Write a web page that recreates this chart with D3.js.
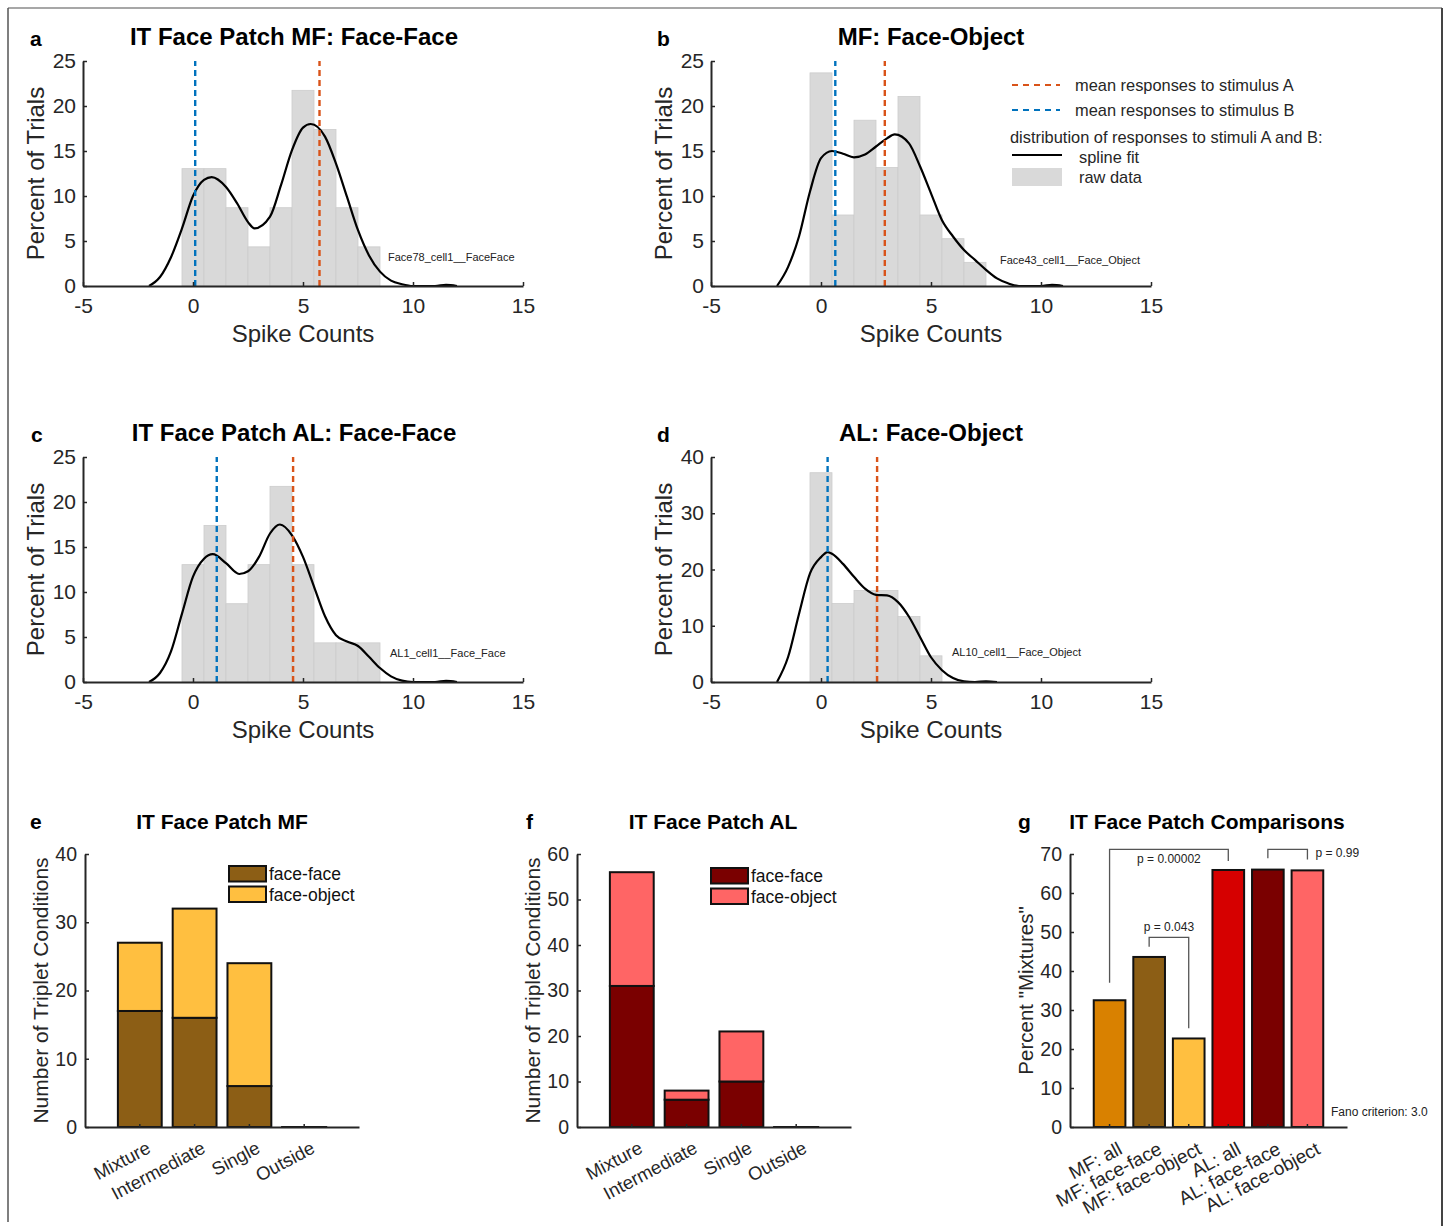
<!doctype html>
<html>
<head>
<meta charset="utf-8">
<script src="https://cdn.jsdelivr.net/npm/d3@7"></script>
<style>
  body { margin: 0; background: #fff; }
  svg { font-family: "Liberation Sans", Arial, Helvetica, sans-serif; }
</style>
</head>
<body>
<svg id="fig" width="1447" height="1226"></svg>
<script>
// ---- histogram panels (a-d): percent of trials per spike-count bin ----
const binCenters = [0, 1, 2, 3, 4, 5, 6, 7, 8];
const histMFff = [13.04, 13.04, 8.70, 4.35, 8.70, 21.74, 17.39, 8.70, 4.35];
const histMFfo = [23.68, 7.89, 18.42, 13.16, 21.05, 7.89, 5.26, 2.63];
const histALff = [13.04, 17.39, 8.70, 13.04, 21.74, 13.04, 4.35, 4.35, 4.35];
const histALfo = [37.21, 13.95, 16.28, 16.28, 11.63, 4.65];

// mean responses (orange = stimulus A, blue = stimulus B)
const meanA = [5.75, 2.9, 4.55, 2.55];
const meanB = [0.1, 0.65, 1.08, 0.3];

// spline fits
const splMFffX = [-2, -1.5, -1, -0.5, 0, 0.5, 0.85, 1.5, 2, 2.5, 2.8, 3.5, 4, 4.5, 5, 5.35, 6, 6.5, 7, 7.5, 8, 8.5, 9, 9.5, 10, 11, 11.5, 12];
const splMFffY = [0, 1.0, 3.2, 6.4, 10.0, 11.8, 12.1, 11.0, 9.2, 7.1, 6.4, 7.7, 11.2, 15.1, 17.6, 18.0, 16.6, 13.6, 9.9, 6.2, 3.4, 1.6, 0.6, 0.2, 0, 0, 0.12, 0];
const splMFfoX = [-2, -1.5, -1, -0.5, 0, 0.5, 1, 1.5, 2, 2.5, 3, 3.35, 4, 4.5, 5, 5.5, 6, 6.5, 7, 7.5, 8, 8.5, 9, 10, 10.5, 11];
const splMFfoY = [0, 2.1, 5.5, 10.5, 14.2, 15.0, 14.7, 14.3, 14.6, 15.5, 16.4, 16.85, 15.85, 13.3, 10.3, 7.3, 5.5, 4.0, 2.9, 1.8, 0.85, 0.3, 0, 0, 0.12, 0];
const splALffX = [-2, -1.5, -1, -0.5, 0, 0.5, 0.9, 1.5, 2.1, 2.5, 3, 3.5, 3.95, 4.5, 5, 5.5, 6, 6.5, 7, 7.5, 8, 8.5, 9, 9.5, 10, 11, 11.5, 12];
const splALffY = [0, 1.0, 3.4, 7.6, 11.7, 13.7, 14.2, 13.2, 12.0, 12.3, 13.9, 16.5, 17.5, 16.3, 13.9, 10.6, 7.3, 5.2, 4.5, 4.0, 2.8, 1.55, 0.63, 0.15, 0, 0, 0.12, 0];
const splALfoX = [-2, -1.5, -1, -0.5, 0, 0.3, 0.5, 1, 1.5, 2, 2.5, 3, 3.5, 4, 4.5, 5, 5.5, 6, 6.5, 7, 7.5, 8];
const splALfoY = [0, 4.4, 12.1, 19.3, 22.2, 23.1, 22.8, 21.0, 18.7, 16.6, 15.5, 15.4, 14.2, 11.6, 8.0, 4.4, 2.1, 0.7, 0.1, 0, 0.1, 0];

const spikeTicks = [-5, 0, 5, 10, 15];

// ---- bar panels (e, f): number of triplet conditions ----
const outcomeCats = ["Mixture", "Intermediate", "Single", "Outside"];
const mfFaceFace = [17, 16, 6, 0];
const mfFaceObject = [10, 16, 18, 0];
const alFaceFace = [31, 6, 10, 0];
const alFaceObject = [25, 2, 11, 0];

// ---- panel g: percent "mixtures" ----
const compCats = ["MF: all", "MF: face-face", "MF: face-object", "AL: all", "AL: face-face", "AL: face-object"];
const compPct = [32.5, 43.6, 22.7, 65.9, 66.0, 65.8];
const compColors = ["#d98100", "#8c5e15", "#ffbf40", "#d60000", "#7a0000", "#ff6565"];
const brackets = [
  { from: 0, to: 3, y0: 37.0, top: 71.2, y1: 68.2, label: "p = 0.00002" },
  { from: 1, to: 2, y0: 46.2, top: 48.6, y1: 25.3, label: "p = 0.043" },
  { from: 4, to: 5, y0: 68.9, top: 71.2, y1: 68.6, label: "p = 0.99" }
];

const AXC = "#262626";
const svg = d3.select("#fig");

// frame round the figure
svg.append("line").attr("x1", 8).attr("y1", 8).attr("x2", 1442).attr("y2", 8)
  .attr("stroke", "#8a8a8a").attr("stroke-width", 1.5);
svg.append("line").attr("x1", 8).attr("y1", 8).attr("x2", 8).attr("y2", 1222)
  .attr("stroke", "#555").attr("stroke-width", 1.5);
svg.append("line").attr("x1", 1442).attr("y1", 8).attr("x2", 1442).attr("y2", 1226)
  .attr("stroke", "#444").attr("stroke-width", 2);

function styleAxis(g) {
  g.select(".domain").attr("stroke", AXC).attr("stroke-width", 2);
  g.selectAll(".tick line").attr("stroke", AXC).attr("stroke-width", 1.5);
  g.selectAll(".tick text").attr("fill", AXC);
}

function histPanel(p) {
  const W = 440, Ht = 225;
  const g = svg.append("g");
  const x = d3.scaleLinear().domain([-5, 15]).range([p.left, p.left + W]);
  const y = d3.scaleLinear().domain([0, p.ymax]).range([p.top + Ht, p.top]);

  // raw data bars
  g.selectAll("rect.bin").data(p.vals).enter().append("rect")
    .attr("x", (d, i) => x(binCenters[i] - 0.5))
    .attr("width", (d, i) => x(binCenters[i] + 0.5) - x(binCenters[i] - 0.5))
    .attr("y", d => y(d))
    .attr("height", d => y(0) - y(d))
    .attr("fill", "#d9d9d9").attr("stroke", "#cccccc").attr("stroke-width", 0.8);

  // spline fit
  const pts = p.sx.map((v, i) => [v, p.sy[i]]);
  g.append("path").datum(pts)
    .attr("d", d3.line().x(d => x(d[0])).y(d => y(d[1])).curve(d3.curveMonotoneX))
    .attr("fill", "none").attr("stroke", "#000").attr("stroke-width", 2.2);

  // means
  [[p.mA, "#d95319"], [p.mB, "#0072bd"]].forEach(([m, c]) => {
    g.append("line").attr("x1", x(m)).attr("x2", x(m)).attr("y1", y(0)).attr("y2", y(p.ymax))
      .attr("stroke", c).attr("stroke-width", 2.4).attr("stroke-dasharray", "6,4");
  });

  const gx = g.append("g").attr("transform", `translate(0,${y(0)})`)
    .call(d3.axisBottom(x).tickValues(spikeTicks).tickFormat(d => String(d))
      .tickSizeInner(-4).tickSizeOuter(0).tickPadding(12));
  gx.selectAll(".tick text").attr("font-size", 21);
  styleAxis(gx);

  const gy = g.append("g").attr("transform", `translate(${p.left},0)`)
    .call(d3.axisLeft(y).ticks(5).tickFormat(d => String(d))
      .tickSizeInner(-4).tickSizeOuter(0).tickPadding(7));
  gy.selectAll(".tick text").attr("font-size", 21);
  styleAxis(gy);

  g.append("text").attr("x", p.left + W / 2).attr("y", p.top + Ht + 55.5)
    .attr("text-anchor", "middle").attr("font-size", 24).attr("fill", AXC).text("Spike Counts");
  g.append("text").attr("transform", `translate(${p.left - 39},${p.top + Ht / 2}) rotate(-90)`)
    .attr("text-anchor", "middle").attr("font-size", 24).attr("fill", AXC).text("Percent of Trials");

  g.append("text").attr("x", p.titleX).attr("y", p.top - 16).attr("text-anchor", "middle")
    .attr("font-size", 24).attr("font-weight", "bold").text(p.title);
  g.append("text").attr("x", p.letterX).attr("y", p.top - 15)
    .attr("font-size", 21).attr("font-weight", "bold").text(p.letter);
  g.append("text").attr("x", p.noteX).attr("y", p.noteY)
    .attr("font-size", 11).attr("fill", "#222").text(p.note);
}

histPanel({ letter: "a", letterX: 30, title: "IT Face Patch MF: Face-Face", titleX: 294,
  left: 83, top: 61, ymax: 25, vals: histMFff, sx: splMFffX, sy: splMFffY, mA: meanA[0], mB: meanB[0],
  note: "Face78_cell1__FaceFace", noteX: 388, noteY: 261 });
histPanel({ letter: "b", letterX: 657, title: "MF: Face-Object", titleX: 931,
  left: 711, top: 61, ymax: 25, vals: histMFfo, sx: splMFfoX, sy: splMFfoY, mA: meanA[1], mB: meanB[1],
  note: "Face43_cell1__Face_Object", noteX: 1000, noteY: 264 });
histPanel({ letter: "c", letterX: 31, title: "IT Face Patch AL: Face-Face", titleX: 294,
  left: 83, top: 457, ymax: 25, vals: histALff, sx: splALffX, sy: splALffY, mA: meanA[2], mB: meanB[2],
  note: "AL1_cell1__Face_Face", noteX: 390, noteY: 657 });
histPanel({ letter: "d", letterX: 657, title: "AL: Face-Object", titleX: 931,
  left: 711, top: 457, ymax: 40, vals: histALfo, sx: splALfoX, sy: splALfoY, mA: meanA[3], mB: meanB[3],
  note: "AL10_cell1__Face_Object", noteX: 952, noteY: 656 });

// legend of panel b
const lg = svg.append("g").attr("font-size", 16.4).attr("fill", AXC);
lg.append("line").attr("x1", 1012).attr("x2", 1060).attr("y1", 85).attr("y2", 85)
  .attr("stroke", "#d95319").attr("stroke-width", 2).attr("stroke-dasharray", "6,5");
lg.append("line").attr("x1", 1012).attr("x2", 1060).attr("y1", 110).attr("y2", 110)
  .attr("stroke", "#0072bd").attr("stroke-width", 2).attr("stroke-dasharray", "6,5");
lg.append("text").attr("x", 1075).attr("y", 91).text("mean responses to stimulus A");
lg.append("text").attr("x", 1075).attr("y", 116).text("mean responses to stimulus B");
lg.append("text").attr("x", 1010).attr("y", 143).text("distribution of responses to stimuli A and B:");
lg.append("line").attr("x1", 1012).attr("x2", 1062).attr("y1", 155).attr("y2", 155)
  .attr("stroke", "#000").attr("stroke-width", 2);
lg.append("text").attr("x", 1079).attr("y", 163).text("spline fit");
lg.append("rect").attr("x", 1012).attr("y", 168).attr("width", 50).attr("height", 18).attr("fill", "#d9d9d9");
lg.append("text").attr("x", 1079).attr("y", 183).text("raw data");

// stacked bar panels
function stackPanel(p) {
  const W = 274, Ht = 273;
  const g = svg.append("g");
  const x = d3.scaleBand().domain(outcomeCats).range([p.left, p.left + W])
    .paddingInner(0.2).paddingOuter(0.6);
  const y = d3.scaleLinear().domain([0, p.ymax]).range([p.top + Ht, p.top]);

  const rows = outcomeCats.map((c, i) => ({ cat: c, ff: p.ff[i], fo: p.fo[i] }));
  const series = d3.stack().keys(["ff", "fo"])(rows);
  series.forEach((s, k) => {
    // a zero-height bar still shows its outline as a flat line, as in MATLAB
    g.selectAll(null).data(s).enter().append("rect")
      .attr("x", d => x(d.data.cat)).attr("width", x.bandwidth())
      .attr("y", d => y(d[1])).attr("height", d => Math.max(y(d[0]) - y(d[1]), 0.01))
      .attr("fill", p.colors[k]).attr("stroke", "#111").attr("stroke-width", 2);
  });

  const gx = g.append("g").attr("transform", `translate(0,${y(0)})`)
    .call(d3.axisBottom(x).tickSizeInner(-3).tickSizeOuter(0));
  styleAxis(gx);
  gx.selectAll(".tick text").attr("font-size", 18.5).attr("y", 0).attr("dy", 0)
    .attr("transform", "translate(12,25) rotate(-28)").attr("text-anchor", "end");

  const gy = g.append("g").attr("transform", `translate(${p.left},0)`)
    .call(d3.axisLeft(y).ticks(p.ymax / 10).tickSizeInner(-4).tickSizeOuter(0).tickPadding(8));
  gy.selectAll(".tick text").attr("font-size", 19.5);
  styleAxis(gy);

  g.append("text").attr("transform", `translate(${p.left - 37},${p.top + Ht / 2}) rotate(-90)`)
    .attr("text-anchor", "middle").attr("font-size", 21).attr("fill", AXC).text("Number of Triplet Conditions");
  g.append("text").attr("x", p.titleX).attr("y", 829).attr("text-anchor", "middle")
    .attr("font-size", 21).attr("font-weight", "bold").text(p.title);
  g.append("text").attr("x", p.letterX).attr("y", 829)
    .attr("font-size", 21).attr("font-weight", "bold").text(p.letter);

  ["face-face", "face-object"].forEach((t, k) => {
    g.append("rect").attr("x", p.legX).attr("y", p.legY + k * 20.5).attr("width", 37).attr("height", 15.5)
      .attr("fill", p.colors[k]).attr("stroke", "#111").attr("stroke-width", 2);
    g.append("text").attr("x", p.legX + 40).attr("y", p.legY + k * 20.5 + 14)
      .attr("font-size", 17.5).attr("fill", "#111").text(t);
  });
}

stackPanel({ letter: "e", letterX: 30, title: "IT Face Patch MF", titleX: 222, left: 85, top: 854,
  ymax: 40, ff: mfFaceFace, fo: mfFaceObject, colors: ["#8c5e15", "#ffbf40"], legX: 229, legY: 866 });
stackPanel({ letter: "f", letterX: 526, title: "IT Face Patch AL", titleX: 713, left: 577, top: 854,
  ymax: 60, ff: alFaceFace, fo: alFaceObject, colors: ["#7a0000", "#ff6565"], legX: 711, legY: 868 });

// comparison panel g
(function () {
  const left = 1070, top = 854, W = 277, Ht = 273;
  const g = svg.append("g");
  const x = d3.scaleBand().domain(compCats).range([left, left + W]).paddingInner(0.2).paddingOuter(0.6);
  const y = d3.scaleLinear().domain([0, 70]).range([top + Ht, top]);
  const cx = i => x(compCats[i]) + x.bandwidth() / 2;

  g.selectAll(null).data(compPct).enter().append("rect")
    .attr("x", (d, i) => x(compCats[i])).attr("width", x.bandwidth())
    .attr("y", d => y(d)).attr("height", d => y(0) - y(d))
    .attr("fill", (d, i) => compColors[i]).attr("stroke", "#111").attr("stroke-width", 2);

  const gx = g.append("g").attr("transform", `translate(0,${y(0)})`)
    .call(d3.axisBottom(x).tickSizeInner(-3).tickSizeOuter(0));
  styleAxis(gx);
  gx.selectAll(".tick text").attr("font-size", 19).attr("y", 0).attr("dy", 0)
    .attr("transform", "translate(14,26) rotate(-28)").attr("text-anchor", "end");

  const gy = g.append("g").attr("transform", `translate(${left},0)`)
    .call(d3.axisLeft(y).ticks(7).tickSizeInner(-4).tickSizeOuter(0).tickPadding(8));
  gy.selectAll(".tick text").attr("font-size", 19.5);
  styleAxis(gy);

  // significance brackets
  const place = ["below", "above", "right"];
  brackets.forEach((b, k) => {
    const xa = cx(b.from), xb = cx(b.to);
    g.append("path")
      .attr("d", `M${xa},${y(b.y0)}V${y(b.top)}H${xb}V${y(b.y1)}`)
      .attr("fill", "none").attr("stroke", "#555").attr("stroke-width", 1.3);
    const t = g.append("text").attr("font-size", 12).attr("fill", "#222").text(b.label);
    if (place[k] === "below") t.attr("x", (xa + xb) / 2).attr("y", y(b.top) + 14).attr("text-anchor", "middle");
    else if (place[k] === "above") t.attr("x", (xa + xb) / 2).attr("y", y(b.top) - 6).attr("text-anchor", "middle");
    else t.attr("x", xb + 8).attr("y", y(b.top) + 8);
  });

  g.append("text").attr("x", 1331).attr("y", 1116).attr("font-size", 12).attr("fill", "#222")
    .text("Fano criterion: 3.0");
  g.append("text").attr("transform", `translate(${left - 37},${top + Ht / 2}) rotate(-90)`)
    .attr("text-anchor", "middle").attr("font-size", 20.5).attr("fill", AXC).text('Percent "Mixtures"');
  g.append("text").attr("x", 1207).attr("y", 829).attr("text-anchor", "middle")
    .attr("font-size", 21).attr("font-weight", "bold").text("IT Face Patch Comparisons");
  g.append("text").attr("x", 1018).attr("y", 829)
    .attr("font-size", 21).attr("font-weight", "bold").text("g");
})();
</script>
</body>
</html>
